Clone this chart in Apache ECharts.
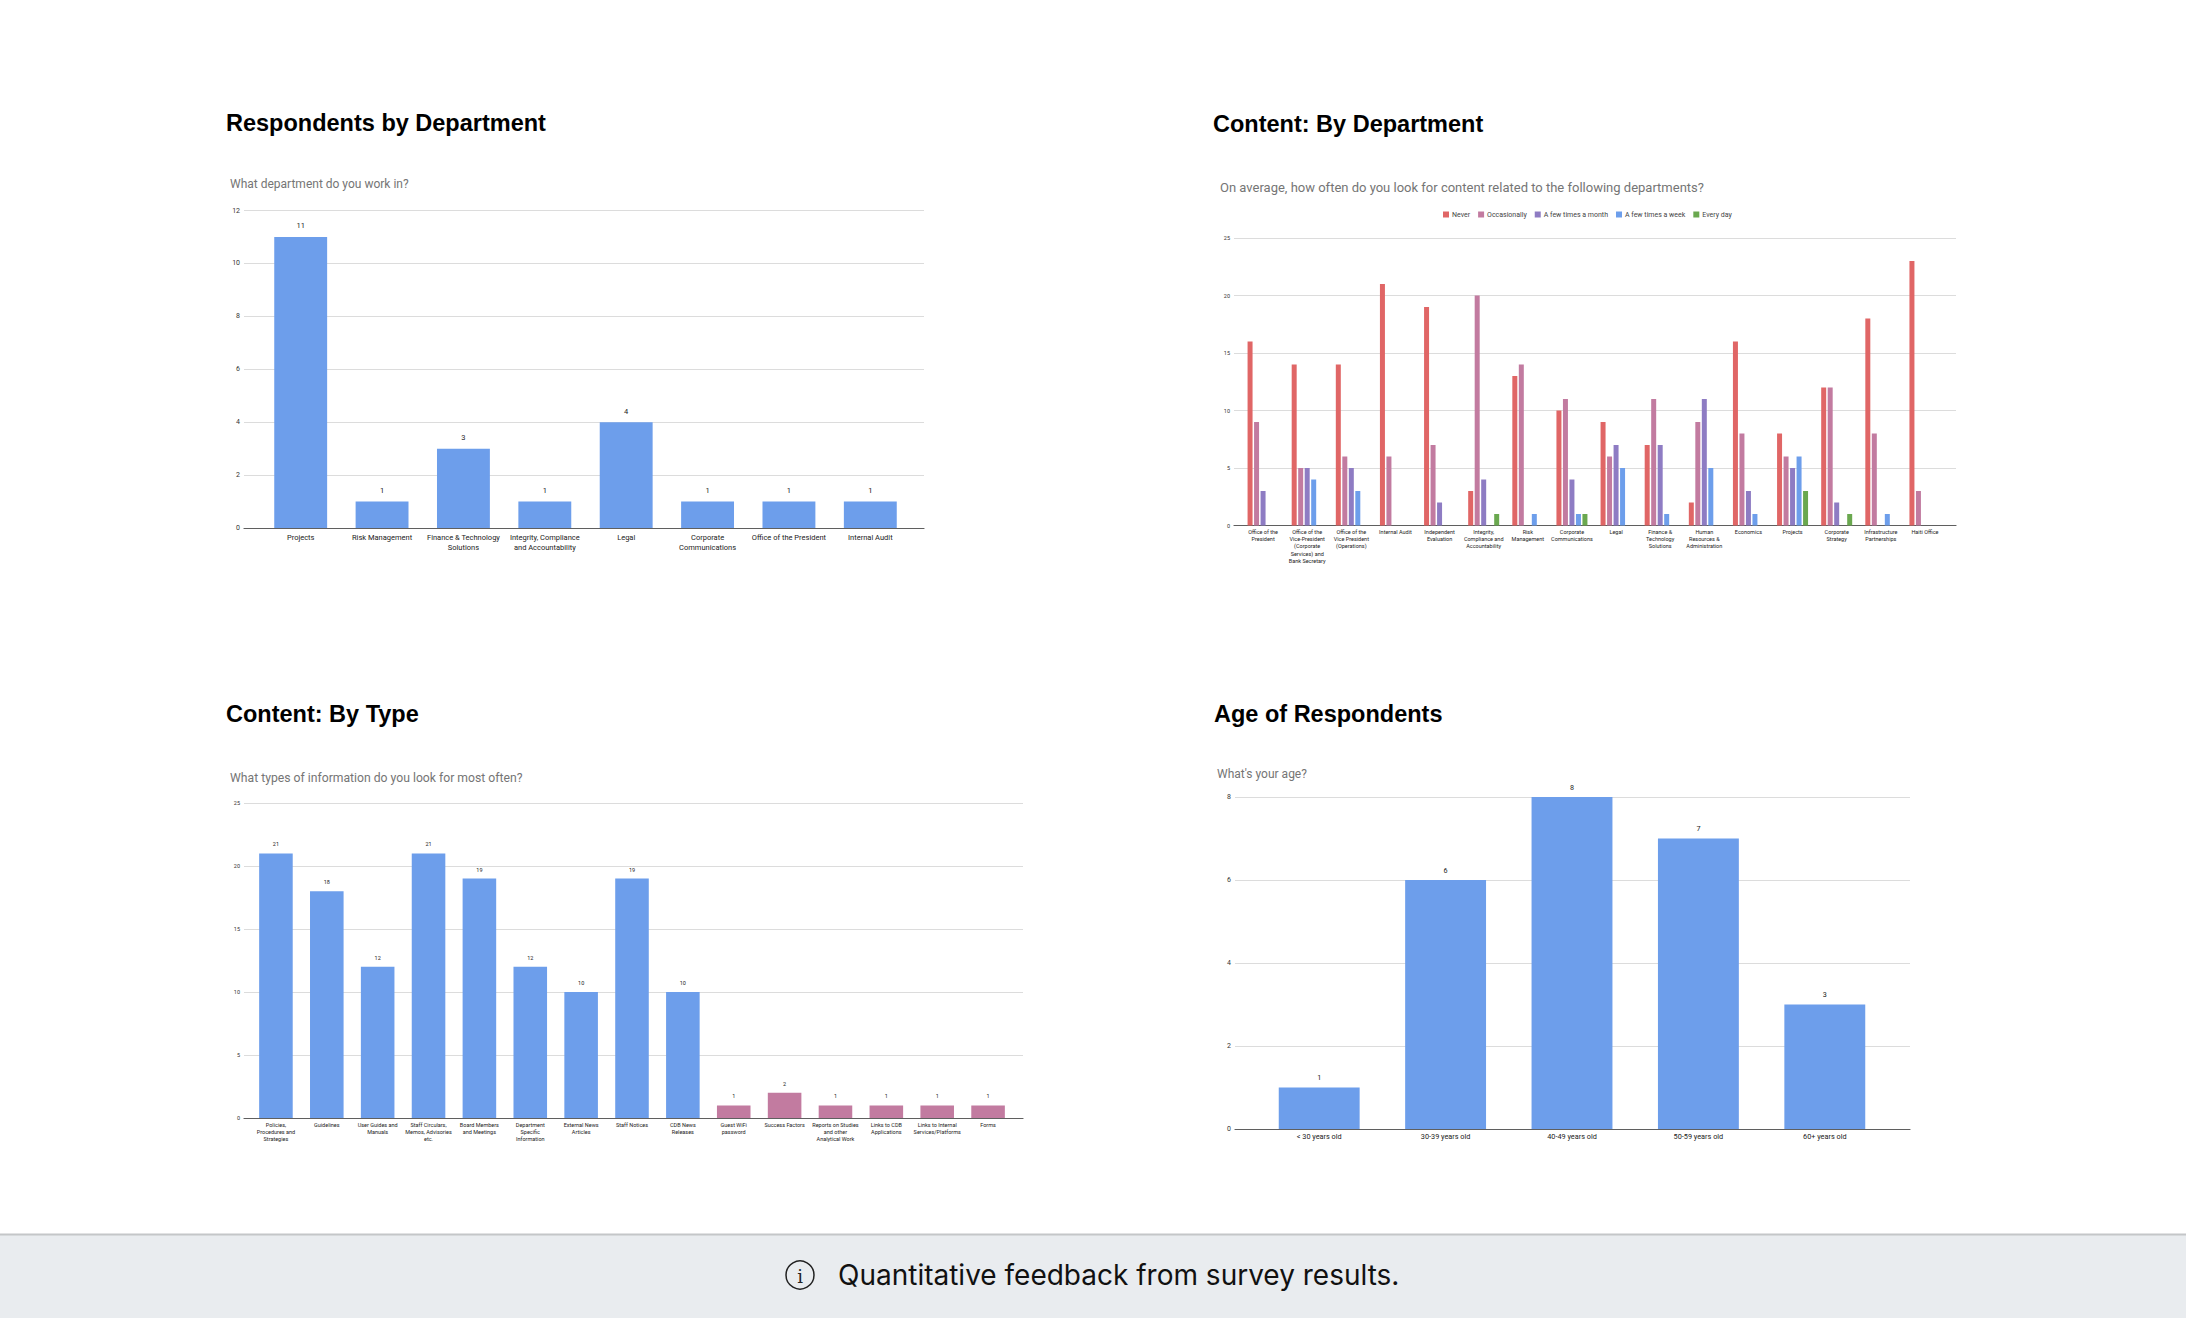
<!DOCTYPE html>
<html><head><meta charset="utf-8">
<script src="https://cdn.jsdelivr.net/npm/echarts@6/dist/echarts.min.js"></script>
<style>html,body{margin:0;padding:0;background:#fff;overflow:hidden}#c{width:2186px;height:1318px}</style>
</head><body><div id="c"></div><script>
// ---------- DATA ----------
const deptCategories = ['Projects','Risk Management','Finance & Technology\nSolutions','Integrity, Compliance\nand Accountability','Legal','Corporate\nCommunications','Office of the President','Internal Audit'];
const deptValues = [11,1,3,1,4,1,1,1];

const freqCategories = ['Office of the\nPresident','Office of the\nVice-President\n(Corporate\nServices) and\nBank Secretary','Office of the\nVice President\n(Operations)','Internal Audit','Independent\nEvaluation','Integrity,\nCompliance and\nAccountability','Risk\nManagement','Corporate\nCommunications','Legal','Finance &\nTechnology\nSolutions','Human\nResources &\nAdministration','Economics','Projects','Corporate\nStrategy','Infrastructure\nPartnerships','Haiti Office'];
const freqSeriesNames = ['Never','Occasionally','A few times a month','A few times a week','Every day'];
const freqNever        = [16,14,14,21,19,3,13,10,9,7,2,16,8,12,18,23];
const freqOccasionally = [9,5,6,6,7,20,14,11,6,11,9,8,6,12,8,3];
const freqMonth        = [3,5,5,null,2,4,null,4,7,7,11,3,5,2,null,null];
const freqWeek         = [null,4,3,null,null,null,1,1,5,1,5,1,6,null,1,null];
const freqEveryDay     = [null,null,null,null,null,1,null,1,null,null,null,null,3,1,null,null];

const typeCategories = ['Policies,\nProcedures and\nStrategies','Guidelines','User Guides and\nManuals','Staff Circulars,\nMemos, Advisories\netc.','Board Members\nand Meetings','Department\nSpecific\nInformation','External News\nArticles','Staff Notices','CDB News\nReleases','Guest WiFi\npassword','Success Factors','Reports on Studies\nand other\nAnalytical Work','Links to CDB\nApplications','Links to Internal\nServices/Platforms','Forms'];
const typeValues = [21,18,12,21,19,12,10,19,10,1,2,1,1,1,1];
const typeMainCount = 9; // first items drawn in the primary colour

const ageCategories = ['< 30 years old','30-39 years old','40-49 years old','50-59 years old','60+ years old'];
const ageValues = [1,6,8,7,3];

const titles = ['Respondents by Department','Content: By Department','Content: By Type','Age of Respondents'];
const subtitles = ['What department do you work in?','On average, how often do you look for content related to the following departments?','What types of information do you look for most often?',"What's your age?"];
const footerText = 'Quantitative feedback from survey results.';

// ---------- STYLE / LAYOUT ----------
const BLUE = '#6d9eeb', PINK = '#c27ba0';
const freqColors = ['#e06666','#c27ba0','#8e7cc3','#6d9eeb','#6aa84f'];
const FONT = 'Roboto';

const panels = [
  {gl:{left:244,width:680}, bar:{left:260,width:651}, top:210.5, height:317.5, max:12, interval:2, yFont:7, xFont:7.5, xLine:9.5, xMargin:5, vFont:7.5, vDist:7, gap:'35%'},
  {gl:{left:1234,width:722}, bar:{left:1241,width:706}, top:238, height:287.5, max:25, interval:5, yFont:5.5, xFont:5.5, xLine:7.3, xMargin:2.5},
  {gl:{left:244,width:779}, bar:{left:250.5,width:763}, top:803, height:315, max:25, interval:5, yFont:5.5, xFont:5.5, xLine:7.3, xMargin:3, vFont:5.5, vDist:6, gap:'34%'},
  {gl:{left:1235,width:675}, bar:{left:1256,width:632}, top:797, height:332, max:8, interval:2, yFont:7, xFont:7.3, xLine:8.5, xMargin:3.5, vFont:7.2, vDist:6.5, gap:'36%'}
];
const titlePos = [{x:226,y:123},{x:1213,y:124},{x:226,y:714},{x:1214,y:714}];
const subPos = [{x:230,y:184,s:12},{x:1220,y:187,s:13},{x:230,y:778,s:12.2},{x:1217,y:774,s:12}];

const grid=[], xAxis=[], yAxis=[], series=[];
const cats = [deptCategories, freqCategories, typeCategories, ageCategories];
panels.forEach((p,i)=>{
  const gi = grid.length;
  grid.push({left:p.gl.left, width:p.gl.width, top:p.top, height:p.height, containLabel:false});
  grid.push({left:p.bar.left, width:p.bar.width, top:p.top, height:p.height, containLabel:false});
  xAxis.push({type:'value', gridIndex:gi, min:0, max:1, axisLabel:{show:false}, axisTick:{show:false}, splitLine:{show:false},
    axisLine:{show:true, lineStyle:{color:'#5f5f5f', width:1.2}}});
  yAxis.push({type:'value', gridIndex:gi, min:0, max:p.max, interval:p.interval,
    axisLine:{show:false}, axisTick:{show:false},
    axisLabel:{fontFamily:FONT, fontSize:p.yFont, color:'#333', margin:4},
    splitLine:{lineStyle:{color:'#dcdcdc', width:1}}});
  xAxis.push({type:'category', gridIndex:gi+1, data:cats[i], axisLine:{show:false}, axisTick:{show:false},
    axisLabel:{interval:0, fontFamily:FONT, fontSize:p.xFont, lineHeight:p.xLine, color:'#222', margin:p.xMargin, verticalAlign:'top'}});
  yAxis.push({type:'value', gridIndex:gi+1, min:0, max:p.max, show:false, splitLine:{show:false}});
});

function valLabel(p){return {show:true, position:'top', distance:p.vDist, fontFamily:FONT, fontSize:p.vFont, color:'#222'};}

series.push({type:'bar', xAxisIndex:1, yAxisIndex:1, data:deptValues, barCategoryGap:panels[0].gap,
  itemStyle:{color:BLUE}, label:valLabel(panels[0]), silent:true});

const freqData=[freqNever,freqOccasionally,freqMonth,freqWeek,freqEveryDay];
freqData.forEach((d,k)=>{
  series.push({type:'bar', name:freqSeriesNames[k], xAxisIndex:3, yAxisIndex:3, data:d, barWidth:5, barGap:'30%',
    itemStyle:{color:freqColors[k]}, silent:true});
});

series.push({type:'bar', xAxisIndex:5, yAxisIndex:5, barCategoryGap:panels[2].gap,
  data:typeValues.map((v,j)=>({value:v, itemStyle:{color: j<typeMainCount?BLUE:PINK}})),
  label:valLabel(panels[2]), silent:true});

series.push({type:'bar', xAxisIndex:7, yAxisIndex:7, data:ageValues, barCategoryGap:panels[3].gap,
  itemStyle:{color:BLUE}, label:valLabel(panels[3]), silent:true});

const graphic=[];
titles.forEach((t,i)=>graphic.push({type:'text', x:titlePos[i].x, y:titlePos[i].y,
  style:{text:t, font:'bold 23.5px "Liberation Sans", Arial, sans-serif', fill:'#000', verticalAlign:'middle'}}));
subtitles.forEach((t,i)=>graphic.push({type:'text', x:subPos[i].x, y:subPos[i].y,
  style:{text:t, font:subPos[i].s+'px Roboto, sans-serif', fill:'#757575', verticalAlign:'middle'}}));
graphic.push({type:'rect', shape:{x:0,y:1234,width:2186,height:84}, style:{fill:'#e9ecef'}, z:-1});
graphic.push({type:'line', shape:{x1:0,y1:1234.5,x2:2186,y2:1234.5}, style:{stroke:'#c4c6c8', lineWidth:2}});
graphic.push({type:'circle', shape:{cx:800,cy:1275,r:14}, style:{fill:'none', stroke:'#222', lineWidth:1.5}});
graphic.push({type:'text', x:800, y:1276, style:{text:'i', font:'18px "DejaVu Serif", serif', fill:'#222', align:'center', verticalAlign:'middle'}});
graphic.push({type:'text', x:838, y:1275, style:{text:footerText, font:'28px Inter, sans-serif', fill:'#111', verticalAlign:'middle'}});

const chart = echarts.init(document.getElementById('c'), null, {renderer:'svg', width:2186, height:1318});
chart.setOption({
  animation:false,
  backgroundColor:'#fff',
  textStyle:{fontFamily:FONT},
  legend:{data:freqSeriesNames, left:1443, top:211, padding:0, itemWidth:6, itemHeight:6, itemGap:8, icon:'rect',
    textStyle:{fontFamily:FONT, fontSize:7, color:'#444', padding:[0,0,0,-2]}, selectedMode:false},
  grid, xAxis, yAxis, series, graphic
});
</script></body></html>
